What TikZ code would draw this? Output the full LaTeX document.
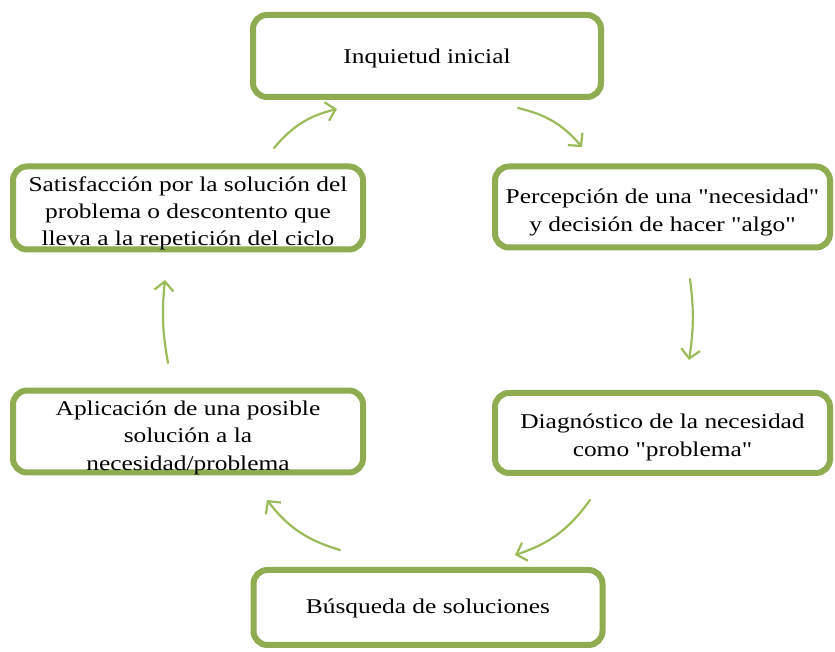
\documentclass[tikz,border=0pt]{standalone}
\usepackage{fontspec}
\newfontfamily\boxfont{Liberation Serif}[FakeStretch=1.21]
\usetikzlibrary{arrows.meta}
\definecolor{boxgreen}{RGB}{143,172,80}
\definecolor{arrgreen}{RGB}{155,187,89}
\newcommand\boxtext[2][0pt]{\raisebox{-#1}[\height][\depth]{\begin{tabular}{@{}c@{}}#2\end{tabular}}}
\begin{document}
\begin{tikzpicture}[x=1pt,y=1pt,
  stagebox/.style={draw=boxgreen, line width=6pt, rounded corners=14pt, fill=white,
    align=center, inner sep=0pt, font=\boxfont\fontsize{21}{27.3}\selectfont},
  cyclearrow/.style={draw=arrgreen, line width=2.2pt, line cap=round,
    -{Straight Barb[length=9pt,width=19pt,line width=2.2pt]}, bend left=18}]
\useasboundingbox (0,0) rectangle (835,652);
\node[stagebox, minimum width=348pt, minimum height=82pt] (top) at (427,596) {\boxtext[2pt]{Inquietud inicial}};
\node[stagebox, minimum width=335pt, minimum height=81pt] (rt) at (662.5,445) {\boxtext[5pt]{Percepción de una "necesidad"\\y decisión de hacer "algo"}};
\node[stagebox, minimum width=335pt, minimum height=80pt] (rb) at (662.5,219) {\boxtext[4pt]{Diagnóstico de la necesidad\\como "problema"}};
\node[stagebox, minimum width=349pt, minimum height=75pt] (bot) at (428,44.5) {\boxtext[1pt]{Búsqueda de soluciones}};
\node[stagebox, minimum width=350pt, minimum height=81pt] (lb) at (188,220.5) {\boxtext[6pt]{Aplicación de una posible\\solución a la\\necesidad/problema}};
\node[stagebox, minimum width=350pt, minimum height=83pt] (lt) at (188,444) {\boxtext[5pt]{Satisfacción por la solución del\\problema o descontento que\\lleva a la repetición del ciclo}};
\coordinate (a1s) at (274,504); \coordinate (a1e) at (337,543);
\coordinate (a2s) at (518,544); \coordinate (a2e) at (582,505);
\coordinate (a3s) at (690,373); \coordinate (a3e) at (689,292);
\coordinate (a4s) at (590,152); \coordinate (a4e) at (515,97);
\coordinate (a5s) at (340,102); \coordinate (a5e) at (267,152);
\coordinate (a6s) at (168,289); \coordinate (a6e) at (165,372);
\draw[cyclearrow] (a1s) to (a1e);
\draw[cyclearrow] (a2s) to (a2e);
\draw[cyclearrow, bend left=8] (a3s) to (a3e);
\draw[cyclearrow] (a4s) to (a4e);
\draw[cyclearrow] (a5s) to (a5e);
\draw[cyclearrow, bend left=8] (a6s) to (a6e);
\end{tikzpicture}
\end{document}
